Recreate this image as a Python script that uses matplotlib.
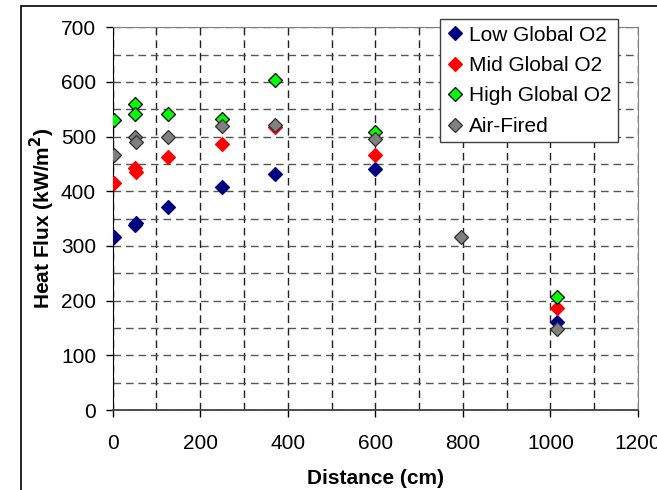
import numpy as np
import matplotlib.pyplot as plt
from matplotlib.patches import Rectangle

plt.rcParams['font.family'] = ['Liberation Sans', 'DejaVu Sans']

# distance (cm) and heat flux (kW/m2)
low_x = [4, 50, 54, 126, 249, 370, 600, 1015]
low_y = [316, 338, 342, 371, 407, 431, 440, 161]
mid_x = [4, 51, 53, 126, 249, 370, 600, 1015]
mid_y = [416, 442, 435, 462, 487, 517, 466, 186]
high_x = [4, 52, 50, 126, 249, 370, 600, 1015]
high_y = [531, 560, 542, 542, 532, 604, 509, 207]
air_x = [4, 50, 53, 126, 249, 370, 600, 795, 1015]
air_y = [466, 499, 490, 499, 519, 521, 496, 317, 148]

series = [
    ("Low Global O2", low_x, low_y, "#000080", "#000080"),
    ("Mid Global O2", mid_x, mid_y, "#ff0000", "#ff0000"),
    ("High Global O2", high_x, high_y, "#00ff00", "#000000"),
    ("Air-Fired", air_x, air_y, "#808080", "#303030"),
]

fig = plt.figure(figsize=(6.57, 4.90), dpi=100)
ax = fig.add_axes([112.7/657, 1-410/490, (638-112.7)/657, (410-27.3)/490])

# outer chart border
fig.patches.append(Rectangle((21/657, -0.1), 1.1, 1-6/490+0.1, transform=fig.transFigure,
                             fill=False, edgecolor='black', lw=1.2))

for name, xs, ys, fc, ec in series:
    ax.plot(xs, ys, linestyle='none', marker='D', markersize=6.8,
            markerfacecolor=fc, markeredgecolor=ec, markeredgewidth=0.9,
            label=name, zorder=3)

ax.set_xlim(0, 1200)
ax.set_ylim(0, 700)
ax.set_xticks(np.arange(0, 1201, 200))
ax.set_xticks(np.arange(0, 1201, 100), minor=True)
ax.set_yticks(np.arange(0, 701, 100))
ax.set_yticks(np.arange(0, 701, 50), minor=True)

dash = (0, (5.5, 3.5))
ax.grid(True, which='both', axis='x', color='#202020', linestyle=dash, lw=1)
ax.grid(True, which='both', axis='y', color='#555555', linestyle=dash, lw=1)
ax.set_axisbelow(True)

ax.tick_params(axis='both', which='major', direction='out', length=5, width=1,
               labelsize=15, color='black')
ax.tick_params(axis='x', pad=12)
ax.tick_params(axis='y', pad=7)
ax.tick_params(which='minor', length=0)

ax.spines['left'].set_color('black')
ax.spines['bottom'].set_color('#404040')
ax.spines['bottom'].set_linewidth(1.3)
ax.spines['top'].set_color('#808080')
ax.spines['right'].set_color('#808080')

ax.set_xlabel("Distance (cm)", fontsize=15, fontweight='bold', labelpad=12)
ax.set_ylabel("Heat Flux (kW/m$^\\mathbf{2}$)", fontsize=15, fontweight='bold', labelpad=3)

leg = ax.legend(loc='upper right', bbox_to_anchor=(618/657, 1-19.3/490),
                bbox_transform=fig.transFigure, fontsize=15, frameon=True,
                fancybox=False, edgecolor='#404040', framealpha=1,
                handlelength=0.8, handletextpad=0.3, borderpad=0.3,
                labelspacing=0.55, borderaxespad=0)
leg.get_frame().set_linewidth(1)

fig.savefig("out.png", dpi=100)
